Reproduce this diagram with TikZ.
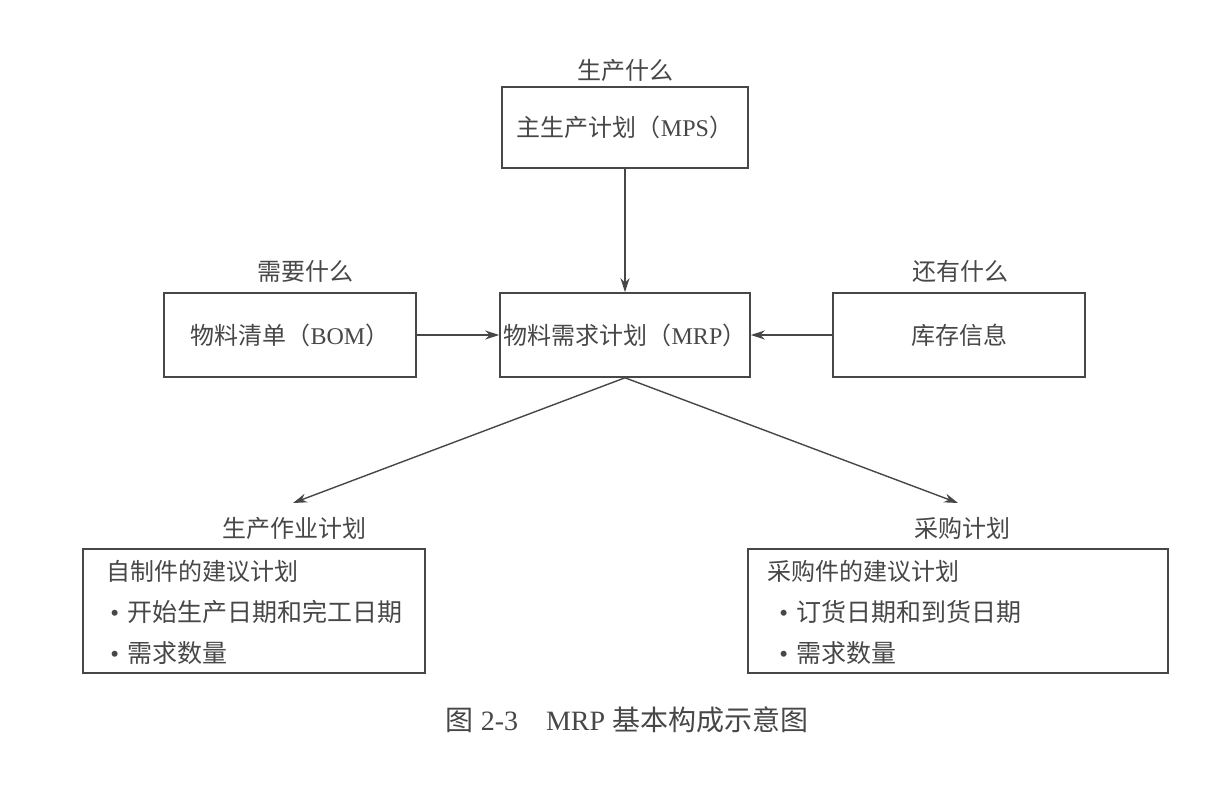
\documentclass[tikz,border=0pt]{standalone}
\usepackage{fontspec}
\setmainfont{Liberation Serif}
\newfontfamily\cjk{Noto Sans CJK SC}
\usetikzlibrary{arrows.meta}
\newcommand\zh[1]{{\cjk #1}}
\definecolor{ink}{HTML}{474747}
\begin{document}
\begin{tikzpicture}[x=0.5pt,y=-0.5pt,
  box/.style={draw=ink,line width=0.8pt,inner sep=0pt,text=ink,font=\fontsize{12}{14}\selectfont},
  lbl/.style={text=ink,inner sep=0pt,font=\fontsize{12}{14}\selectfont},
  line/.style={text=ink,inner sep=0pt,anchor=west,font=\fontsize{12}{14}\selectfont},
  bline/.style={line,font=\fontsize{12.5}{14}\selectfont},
  conn/.style={draw=ink,line width=0.7pt,-{Stealth[length=7pt,width=4.5pt]}}]
\useasboundingbox[fill=white] (0,0) rectangle (1227,785);

% top
\node[lbl] (lmps) at (625,70) {\zh{生产什么}};
\node[box,minimum width=123pt,minimum height=40.5pt] (mps) at (625,127.5) {\zh{主生产计划（}MPS\zh{）}};

% middle row
\node[lbl] (lbom) at (305,271) {\zh{需要什么}};
\node[box,minimum width=126pt,minimum height=42pt] (bom) at (290,335) {\zh{物料清单（}BOM\zh{）}};
\node[box,minimum width=125pt,minimum height=42pt] (mrp) at (625,335) {\zh{物料需求计划（}MRP\zh{）}};
\node[lbl] (linv) at (960,271) {\zh{还有什么}};
\node[box,minimum width=126pt,minimum height=42pt] (inv) at (959,335) {\zh{库存信息}};

% bottom left
\node[lbl] (lprod) at (294,528) {\zh{生产作业计划}};
\node[box,minimum width=171pt,minimum height=62pt] (prod) at (254,611) {};
\node[line] (p1) at (106,571) {\zh{自制件的建议计划}};
\node[bline] (p2) at (110,612) {\textbullet\hspace{4pt}\zh{开始生产日期和完工日期}};
\node[bline] (p3) at (110,653) {\textbullet\hspace{4pt}\zh{需求数量}};

% bottom right
\node[lbl] (lpur) at (962,528) {\zh{采购计划}};
\node[box,minimum width=210pt,minimum height=62pt] (pur) at (958,611) {};
\node[line] (q1) at (767,571) {\zh{采购件的建议计划}};
\node[bline] (q2) at (779,612) {\textbullet\hspace{4pt}\zh{订货日期和到货日期}};
\node[bline] (q3) at (779,653) {\textbullet\hspace{4pt}\zh{需求数量}};

% connectors
\coordinate (tl) at (293,503);
\coordinate (tr) at (958,503);
\draw[conn] (mps.south) -- (mrp.north);
\draw[conn] (bom.east) -- (mrp.west);
\draw[conn] (inv.west) -- (mrp.east);
\draw[conn] (mrp.south) -- (tl);
\draw[conn] (mrp.south) -- (tr);

% caption
\node[lbl,font=\fontsize{14}{16}\selectfont] (cap) at (627,720) {\zh{图} 2-3\zh{　}MRP \zh{基本构成示意图}};
\end{tikzpicture}
\end{document}
